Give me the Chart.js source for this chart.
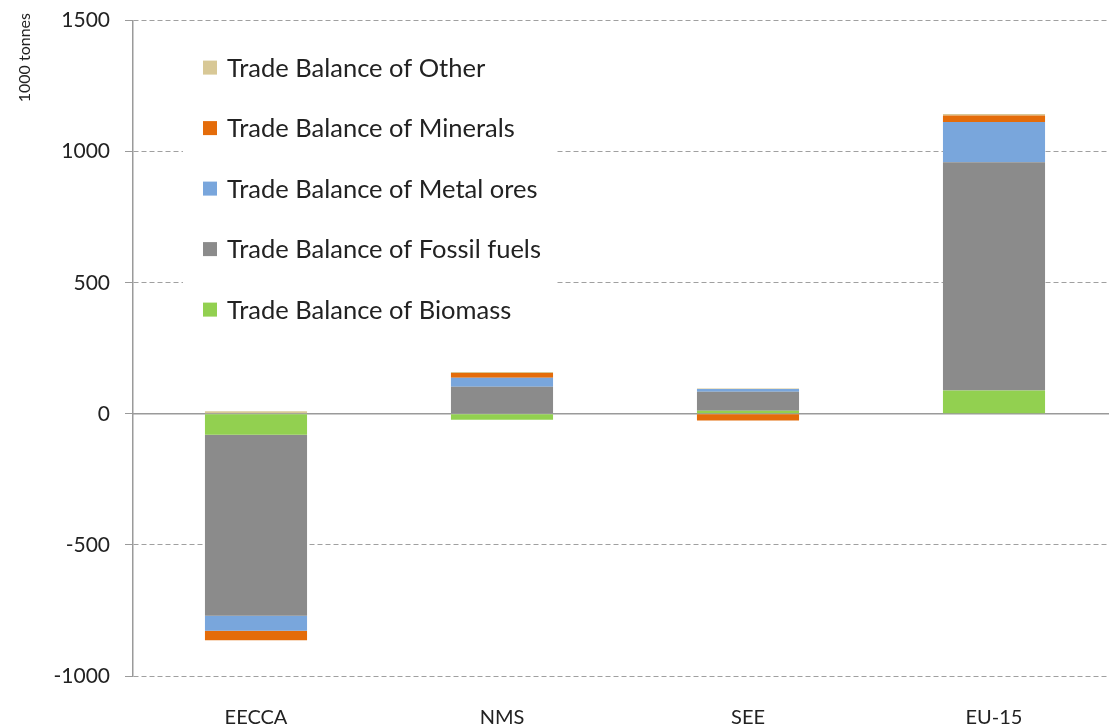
<!DOCTYPE html>
<html>
<head>
<meta charset="utf-8">
<script src="https://cdn.jsdelivr.net/npm/chart.js@4"></script>
<style>
  html, body { margin: 0; padding: 0; background: #fff; overflow: hidden; }
  #wrap { width: 1118px; height: 734px; position: relative; top: -7px; }
</style>
</head>
<body>
<div id="wrap"><canvas id="trade-balance"></canvas></div>
<script>
// regions and trade balance per material group, 1000 tonnes
const regions = ['EECCA', 'NMS', 'SEE', 'EU-15'];
const biomass = [-80, -23, 12, 89];
const fossilFuels = [-690, 103, 72, 871];
const metalOres = [-57, 35, 11, 153];
const minerals = [-37, 18, -25, 25];
const other = [10, 4, 2, 6];
const yTicks = [-1000, -500, 0, 500, 1000, 1500];
const yTitle = '1000 tonnes';

const FONT = 'Lato, "Open Sans", sans-serif';

// legend drawn inside the plot, top left, last series on top
const boxLegend = {
  id: 'boxLegend',
  afterDraw(chart) {
    const { ctx, chartArea } = chart;
    const x0 = chartArea.left + 50;
    const y0 = chartArea.top + 17;
    ctx.save();
    ctx.fillStyle = '#fff';
    ctx.fillRect(x0, y0, 372, 300);
    ctx.font = '25.5px ' + FONT;
    ctx.textBaseline = 'middle';
    const sets = chart.data.datasets.slice().reverse();
    sets.forEach((ds, i) => {
      const cy = y0 + 30 + i * 60.5;
      ctx.fillStyle = ds.backgroundColor;
      ctx.fillRect(x0 + 20, cy - 7, 14, 14);
      ctx.fillStyle = '#222';
      ctx.fillText(ds.label, x0 + 44, cy + 1);
    });
    ctx.restore();
  }
};

// rotated unit label at the top of the value axis
const unitLabel = {
  id: 'unitLabel',
  afterDraw(chart) {
    const { ctx } = chart;
    ctx.save();
    ctx.translate(25, 20);
    ctx.rotate(-Math.PI / 2);
    ctx.font = '16px ' + FONT;
    ctx.fillStyle = '#222';
    ctx.textAlign = 'right';
    ctx.textBaseline = 'middle';
    ctx.fillText(yTitle, 0, 0);
    ctx.restore();
  }
};

// solid zero line under the bars
const zeroLine = {
  id: 'zeroLine',
  beforeDatasetsDraw(chart) {
    const { ctx, chartArea, scales } = chart;
    const y = scales.y.getPixelForValue(0);
    ctx.save();
    ctx.strokeStyle = '#9a9a9a';
    ctx.lineWidth = 1.5;
    ctx.beginPath();
    ctx.moveTo(chartArea.left, y);
    ctx.lineTo(chartArea.right, y);
    ctx.stroke();
    ctx.restore();
  }
};

const bar = (label, data, color) => ({
  label, data, backgroundColor: color,
  barPercentage: 0.415, categoryPercentage: 1
});

new Chart(document.getElementById('trade-balance'), {
  type: 'bar',
  data: {
    labels: regions,
    datasets: [
      bar('Trade Balance of Biomass', biomass, '#92d050'),
      bar('Trade Balance of Fossil fuels', fossilFuels, '#8b8b8b'),
      bar('Trade Balance of Metal ores', metalOres, '#79a6dc'),
      bar('Trade Balance of Minerals', minerals, '#e46c0a'),
      bar('Trade Balance of Other', other, '#d8c896')
    ]
  },
  options: {
    responsive: true,
    maintainAspectRatio: false,
    animation: false,
    layout: { padding: { top: 13, right: 1, left: 0, bottom: 0 } },
    plugins: {
      legend: { display: false },
      tooltip: { enabled: false }
    },
    scales: {
      x: {
        stacked: true,
        grid: { display: false },
        border: { display: false },
        ticks: { color: '#222', font: { family: FONT, size: 20 }, padding: 22 },
        afterFit(scale) { scale.height = 51; }
      },
      y: {
        stacked: true,
        min: -1000,
        max: 1500,
        afterBuildTicks(scale) { scale.ticks = yTicks.map(v => ({ value: v })); },
        grid: {
          color: ctx => ctx.tick && ctx.tick.value === 0 ? 'rgba(0,0,0,0)' : '#a0a0a0',
          tickColor: '#9a9a9a',
          tickLength: 8,
          lineWidth: 1
        },
        border: { display: true, color: '#9a9a9a', width: 1.5, dash: [5, 3] },
        ticks: {
          color: '#222',
          font: { family: FONT, size: 21 },
          padding: 15,
          callback: v => String(v)
        },
        afterFit(scale) { scale.width = 133; }
      }
    }
  },
  plugins: [zeroLine, boxLegend, unitLabel]
});
</script>
</body>
</html>
